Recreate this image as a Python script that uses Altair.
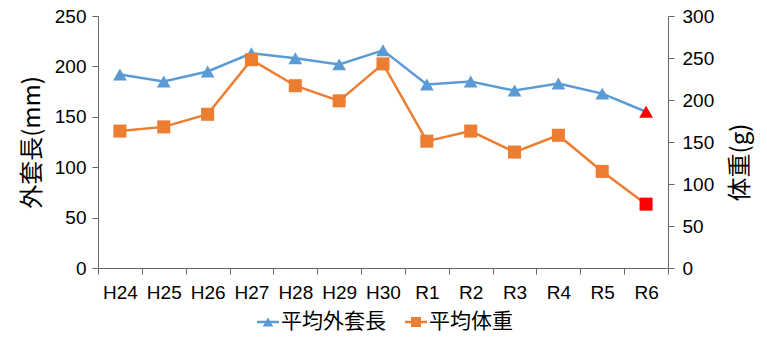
import altair as alt
import pandas as pd

years = ["H24", "H25", "H26", "H27", "H28", "H29", "H30", "R1", "R2", "R3", "R4", "R5", "R6"]
mantle = [192, 185, 195, 213, 208, 202, 216, 182, 185, 176, 183, 173, 155]
weight = [163, 168, 183, 248, 217, 199, 243, 151, 163, 138, 158, 115, 76]
series = ["平均外套長", "平均体重"]

BLUE = "#5B9BD5"
ORANGE = "#ED7D31"
RED = "#FF0000"
AX = "#666666"
LATIN = "Liberation Sans"
CJK = "Noto Sans CJK JP"
LFS = 19

df = pd.DataFrame({"year": years, "mantle": mantle, "weight": weight})

x = alt.X("year:N", sort=years,
          scale=alt.Scale(type="band", paddingInner=0, paddingOuter=0),
          axis=alt.Axis(title=None, tickBand="extent", labelAngle=0, labelFont=LATIN,
                        labelFontSize=LFS, labelColor="#000", labelPadding=9,
                        tickSize=6, domainColor=AX, tickColor=AX, grid=False))

yl = alt.Y("mantle:Q", scale=alt.Scale(domain=[0, 250]),
           axis=alt.Axis(title="外套長(mm)", values=[0, 50, 100, 150, 200, 250],
                         titleFont=CJK, titleFontSize=24, titleFontWeight="normal",
                         titleColor="#000", titleAngle=270, titleX=-66, titleY=126,
                         titleAlign="center", titleBaseline="middle",
                         labelFont=LATIN, labelFontSize=LFS, labelColor="#000",
                         labelPadding=6, tickSize=6, domainColor=AX, tickColor=AX,
                         grid=False, orient="left"))
yr = alt.Y("weight:Q", scale=alt.Scale(domain=[0, 300]),
           axis=alt.Axis(title="体重(g)", values=[0, 50, 100, 150, 200, 250, 300],
                         titleFont=CJK, titleFontSize=24, titleFontWeight="normal",
                         titleColor="#000", titleAngle=270, titleX=72, titleY=146,
                         titleAlign="center", titleBaseline="middle",
                         labelFont=LATIN, labelFontSize=LFS, labelColor="#000",
                         labelPadding=8, tickSize=6, domainColor=AX, tickColor=AX,
                         grid=False, orient="right"))

base = alt.Chart(df)
is_last = alt.datum["year"] == years[-1]

blue = alt.layer(
    base.mark_line(color=BLUE, strokeWidth=2.5).encode(x=x, y=yl),
    base.mark_point(shape="triangle-up", filled=True, size=190, opacity=1).encode(
        x=x, y=yl, color=alt.condition(is_last, alt.value(RED), alt.value(BLUE))),
)
orange = alt.layer(
    base.mark_line(color=ORANGE, strokeWidth=2.5).encode(x=x, y=yr),
    base.mark_point(shape="square", filled=True, size=170, opacity=1).encode(
        x=x, y=yr, color=alt.condition(is_last, alt.value(RED), alt.value(ORANGE))),
)

leg = pd.DataFrame({"name": series})
LY = 306


def leg_chart(i):
    return alt.Chart(leg).transform_filter(alt.datum.name == series[i])


legend = alt.layer(
    leg_chart(0).mark_rule(color=BLUE, strokeWidth=2.5).encode(
        x=alt.value(159), x2=alt.value(181), y=alt.value(LY)),
    leg_chart(0).mark_point(shape="triangle-up", filled=True, size=110, opacity=1, color=BLUE).encode(
        x=alt.value(170), y=alt.value(LY)),
    leg_chart(0).mark_text(align="left", baseline="middle", font=CJK, fontSize=21, color="#000").encode(
        x=alt.value(183), y=alt.value(LY), text="name:N"),
    leg_chart(1).mark_rule(color=ORANGE, strokeWidth=2.5).encode(
        x=alt.value(307), x2=alt.value(329), y=alt.value(LY)),
    leg_chart(1).mark_point(shape="square", filled=True, size=100, opacity=1, color=ORANGE).encode(
        x=alt.value(318), y=alt.value(LY)),
    leg_chart(1).mark_text(align="left", baseline="middle", font=CJK, fontSize=21, color="#000").encode(
        x=alt.value(331), y=alt.value(LY), text="name:N"),
)

chart = alt.layer(blue, orange, legend).resolve_scale(y="independent").properties(
    width=570, height=252,
    autosize=alt.AutoSizeParams(type="none"),
    padding={"left": 98, "top": 16, "right": 99, "bottom": 75},
    background="white",
).configure_view(stroke=None)

chart.save("out.html", embed_options={"renderer": "svg", "actions": False})
